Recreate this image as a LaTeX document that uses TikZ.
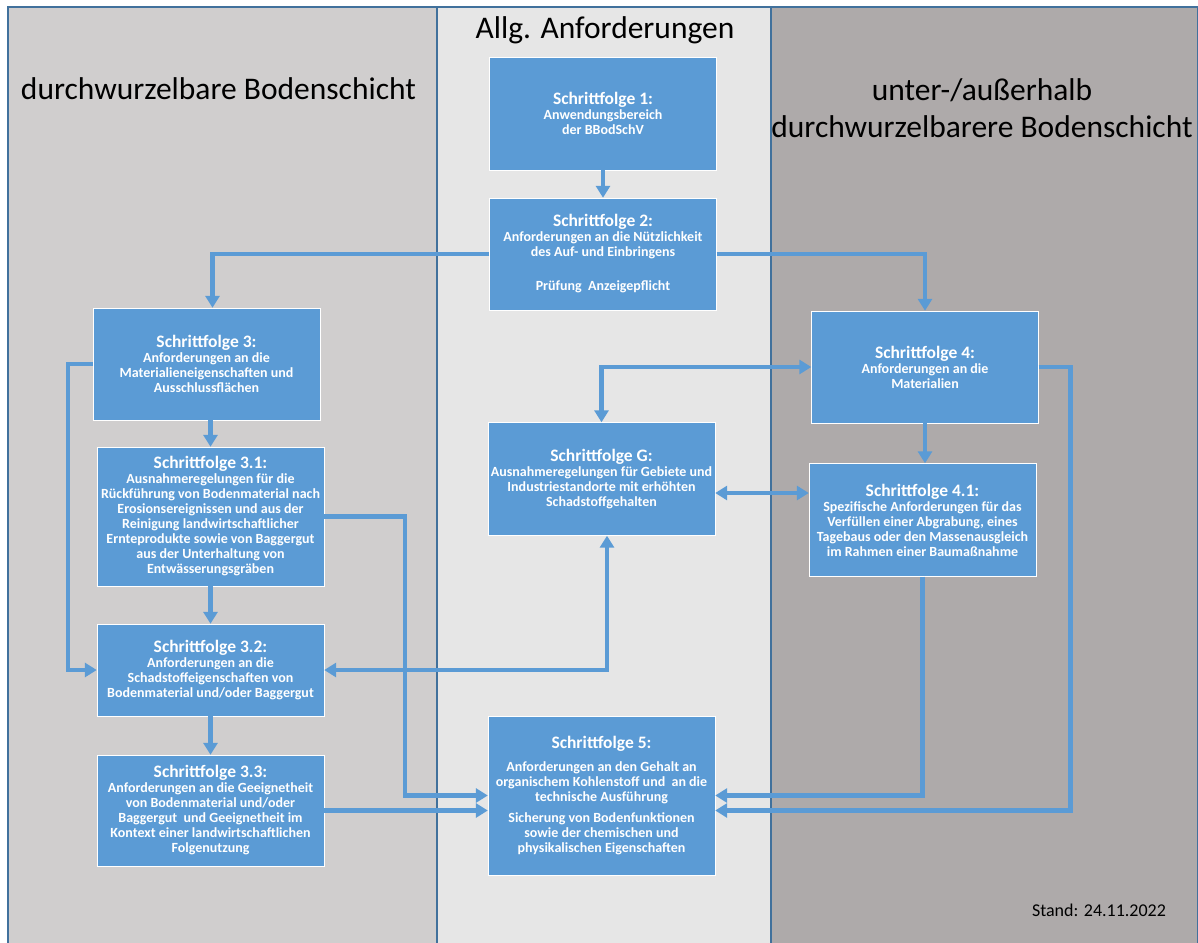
\documentclass[tikz,border=0pt]{standalone}
\usepackage{fontspec}
\setmainfont{Carlito}
\usetikzlibrary{arrows.meta,positioning}
\definecolor{boxblue}{HTML}{5B9BD5}
\definecolor{rimblue}{HTML}{41719C}
\definecolor{leftgray}{HTML}{D0CECE}
\definecolor{midgray}{HTML}{E6E6E6}
\definecolor{rightgray}{HTML}{AEAAAA}
\tikzstyle{box}=[draw=white, fill=boxblue, text=white, align=center,
  font=\bfseries\fontsize{14}{15}\selectfont, minimum width=227pt,
  minimum height=112pt, inner sep=2pt]
\tikzstyle{flow}=[-{Triangle[width=14pt,length=12pt]}, boxblue, line width=4.5pt]
\tikzstyle{flow2}=[flow, {Triangle[width=14pt,length=12pt]}-{Triangle[width=14pt,length=12pt]}]
\tikzstyle{head}=[font=\fontsize{31.5}{37}\selectfont, align=center]
\newcommand{\sft}[1]{{\fontsize{17.5}{18}\selectfont #1}\\}

\begin{document}
\begin{tikzpicture}[x=1pt, y=-1pt]
  \useasboundingbox (0,0) rectangle (1198,942);
  \fill[white] (0,0) rectangle (1198,942);

  % Spalten
  \filldraw[fill=leftgray, draw=rimblue, line width=1.5pt] (8,7) rectangle (437,960);
  \filldraw[fill=midgray, draw=rimblue, line width=1.5pt] (437,7) rectangle (771,960);
  \filldraw[fill=rightgray, draw=rimblue, line width=1.5pt] (771,7) rectangle (1198,960);

  \node[head] (lefthead) at (218.5,89) {durchwurzelbare Bodenschicht};
  \node[head] (midhead) at (605,30) {Allg. Anforderungen};
  \node[head] (righthead) at (982,108) {unter-/außerhalb\\durchwurzelbarere Bodenschicht};
  \node[font=\fontsize{18}{20}\selectfont] (stand) at (1099,910) {Stand: 24.11.2022};

  % Schrittfolgen
  \node[box, minimum height=113pt] (sf1) at (603,113.5)
    {\sft{Schrittfolge 1:}Anwendungsbereich\\der BBodSchV};
  \node[box] (sf2) at (603,254)
    {\sft{Schrittfolge 2:}Anforderungen an die Nützlichkeit\\des Auf- und Einbringens\\[19pt]Prüfung\ \ Anzeigepflicht};
  \node[box] (sf3) at (206.5,364)
    {\sft{Schrittfolge 3:}Anforderungen an die\\Materialieneigenschaften und\\Ausschlussflächen};
  \node[box, minimum height=139pt] (sf31) at (210.5,516.5)
    {\sft{Schrittfolge 3.1:}Ausnahmeregelungen für die\\Rückführung von Bodenmaterial nach\\Erosionsereignissen und aus der\\Reinigung landwirtschaftlicher\\Ernteprodukte sowie von Baggergut\\aus der Unterhaltung von\\Entwässerungsgräben};
  \node[box, minimum height=92pt] (sf32) at (210.5,670)
    {\sft{Schrittfolge 3.2:}Anforderungen an die\\Schadstoffeigenschaften von\\Bodenmaterial und/oder Baggergut};
  \node[box, minimum height=111pt] (sf33) at (210.5,810.5)
    {\sft{Schrittfolge 3.3:}Anforderungen an die Geeignetheit\\von Bodenmaterial und/oder\\Baggergut\ \ und Geeignetheit im\\Kontext einer landwirtschaftlichen\\Folgenutzung};
  \node[box] (sf4) at (925,367)
    {\sft{Schrittfolge 4:}Anforderungen an die\\Materialien};
  \node[box, minimum height=113pt] (sf41) at (922.5,520)
    {\sft{Schrittfolge 4.1:}Spezifische Anforderungen für das\\Verfüllen einer Abgrabung, eines\\Tagebaus oder den Massenausgleich\\im Rahmen einer Baumaßnahme};
  \node[box, minimum height=113pt] (sfG) at (601.5,479)
    {\sft{Schrittfolge G:}Ausnahmeregelungen für Gebiete und\\Industriestandorte mit erhöhten\\Schadstoffgehalten};
  \node[box, minimum height=159pt] (sf5) at (601.5,795.5)
    {\sft{Schrittfolge 5:}\\[-7pt]Anforderungen an den Gehalt an\\organischem Kohlenstoff und\ \ an die\\technische Ausführung\\[6pt]Sicherung von Bodenfunktionen\\sowie der chemischen und\\physikalischen Eigenschaften};

  % Verbindungen
  \draw[flow] (sf1) -- (sf2);
  \draw[flow] (sf2.west) -| ([xshift=6pt]sf3.north);
  \draw[flow] (sf2.east) -| (sf4.north);
  \draw[flow] (sf31.north |- sf3.south) -- (sf31.north);
  \draw[flow] (sf31) -- (sf32);
  \draw[flow] (sf32) -- (sf33);
  \draw[flow] (sf3.west) -- ++(-25,0) |- (sf32.west);
  \draw[flow] (sf31.east) -- ++(81,0) |- (sf5.west);
  \draw[flow] (sf33.east) -- (sf33.east -| sf5.west);
  \draw[flow2] (sf32.east) -| ([xshift=5.5pt]sfG.south);
  \draw[flow2] (sfG.north) |- (sf4.west);
  \draw[flow2] ([yshift=-14pt]sfG.east) -- ([yshift=-14pt]sfG.east -| sf41.west);
  \draw[flow] (sf4) -- (sf4 |- sf41.north);
  \draw[flow] (sf41.south) |- (sf5.east);
  \draw[flow] (sf4.east) -- ++(32,0) |- ([yshift=-15pt]sf5.east);
\end{tikzpicture}
\end{document}
